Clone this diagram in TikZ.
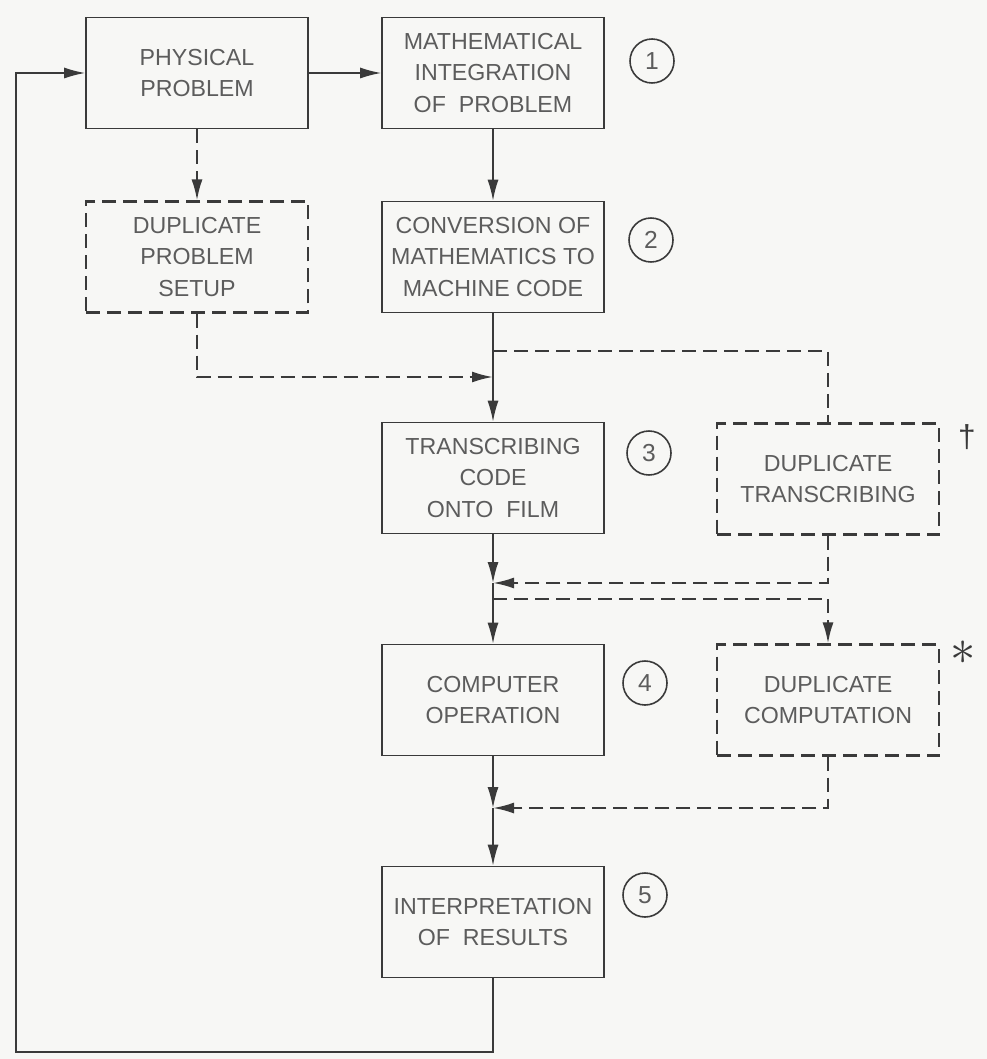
\documentclass[tikz,border=0pt]{standalone}
\usepackage{fontspec}
\setmainfont{Liberation Sans}
\usetikzlibrary{arrows.meta}
\definecolor{ink}{HTML}{3A3A3A}
\definecolor{pencil}{HTML}{5C5C5C}
\definecolor{paper}{HTML}{F7F7F5}
\tikzset{
 procbox/.style={draw=ink,line width=0.45pt,minimum width=22.2mm,minimum height=11.1mm,inner sep=1pt,align=center,text=pencil,font=\fontsize{6.6}{9}\selectfont},
 dupbox/.style={procbox,dash pattern=on 1.4mm off 0.7mm,line width=0.6pt},
 numcirc/.style={draw=ink,circle,line width=0.45pt,minimum size=4.4mm,inner sep=0pt,text=pencil,font=\fontsize{7}{8}\selectfont},
 footsym/.style={text=ink,inner sep=0pt,font=\fontsize{9}{10}\selectfont},
 flow/.style={draw=ink,line width=0.45pt,-{Latex[length=2.1mm,width=1.1mm]}},
 dflow/.style={flow,dash pattern=on 1.4mm off 0.7mm,line width=0.6pt},
 dline/.style={draw=ink,dash pattern=on 1.4mm off 0.7mm,line width=0.6pt},
}
\begin{document}
\begin{tikzpicture}[x=0.1mm,y=-0.1mm]
 \fill[paper] (0,0) rectangle (987,1059);
 \useasboundingbox (0,0) rectangle (987,1059);
 \node[procbox] (phys) at (197,73) {PHYSICAL\\PROBLEM};
 \node[procbox] (math) at (493,73) {MATHEMATICAL\\INTEGRATION\\OF\ \ PROBLEM};
 \node[dupbox] (dupsetup) at (197,257) {DUPLICATE\\PROBLEM\\SETUP};
 \node[procbox] (conv) at (493,257) {CONVERSION OF\\MATHEMATICS TO\\MACHINE CODE};
 \node[procbox] (trans) at (493,478) {TRANSCRIBING\\CODE\\ONTO\ \ FILM};
 \node[dupbox] (duptrans) at (828,479) {DUPLICATE\\TRANSCRIBING};
 \node[procbox] (comp) at (493,700) {COMPUTER\\OPERATION};
 \node[dupbox] (dupcomp) at (828,700) {DUPLICATE\\COMPUTATION};
 \node[procbox] (interp) at (493,922) {INTERPRETATION\\OF\ \ RESULTS};
 \node[numcirc] (one) at (652,61) {1};
 \node[numcirc] (two) at (651,240) {2};
 \node[numcirc] (three) at (649,453) {3};
 \node[numcirc] (four) at (645,683) {4};
 \node[numcirc] (five) at (645,895) {5};
 \node[footsym] (dagger) at (967,437) {†};
 \node[footsym,font=\fontsize{14}{14}\selectfont] (star) at (963,653) {$\ast$};
 \coordinate (transsplit) at (493,351);
 \coordinate (setupjoin) at (493,377);
 \coordinate (transjoin) at (493,583);
 \coordinate (compsplit) at (493,599);
 \coordinate (compjoin) at (493,808);
 \coordinate (loopcorner) at (16,1052);
 \draw[flow] (phys) -- (math);
 \draw[dflow] (phys) -- (dupsetup);
 \draw[flow] (math) -- (conv);
 \draw[flow] (conv) -- (trans);
 \draw[dflow] (dupsetup.south) |- (setupjoin);
 \draw[dline] (transsplit) -| (duptrans.north);
 \draw[flow] (trans) -- (transjoin);
 \draw[dflow] (duptrans.south) |- (transjoin);
 \draw[flow] (transjoin) -- (comp);
 \draw[dline] (compsplit) -- (compsplit -| dupcomp.north);
 \draw[dflow] (compsplit -| dupcomp.north) -- (dupcomp.north);
 \draw[flow] (comp) -- (compjoin);
 \draw[dflow] (dupcomp.south) |- (compjoin);
 \draw[flow] (compjoin) -- (interp);
 \draw[flow] (interp.south) |- (loopcorner) |- (phys.west);
\end{tikzpicture}
\end{document}
